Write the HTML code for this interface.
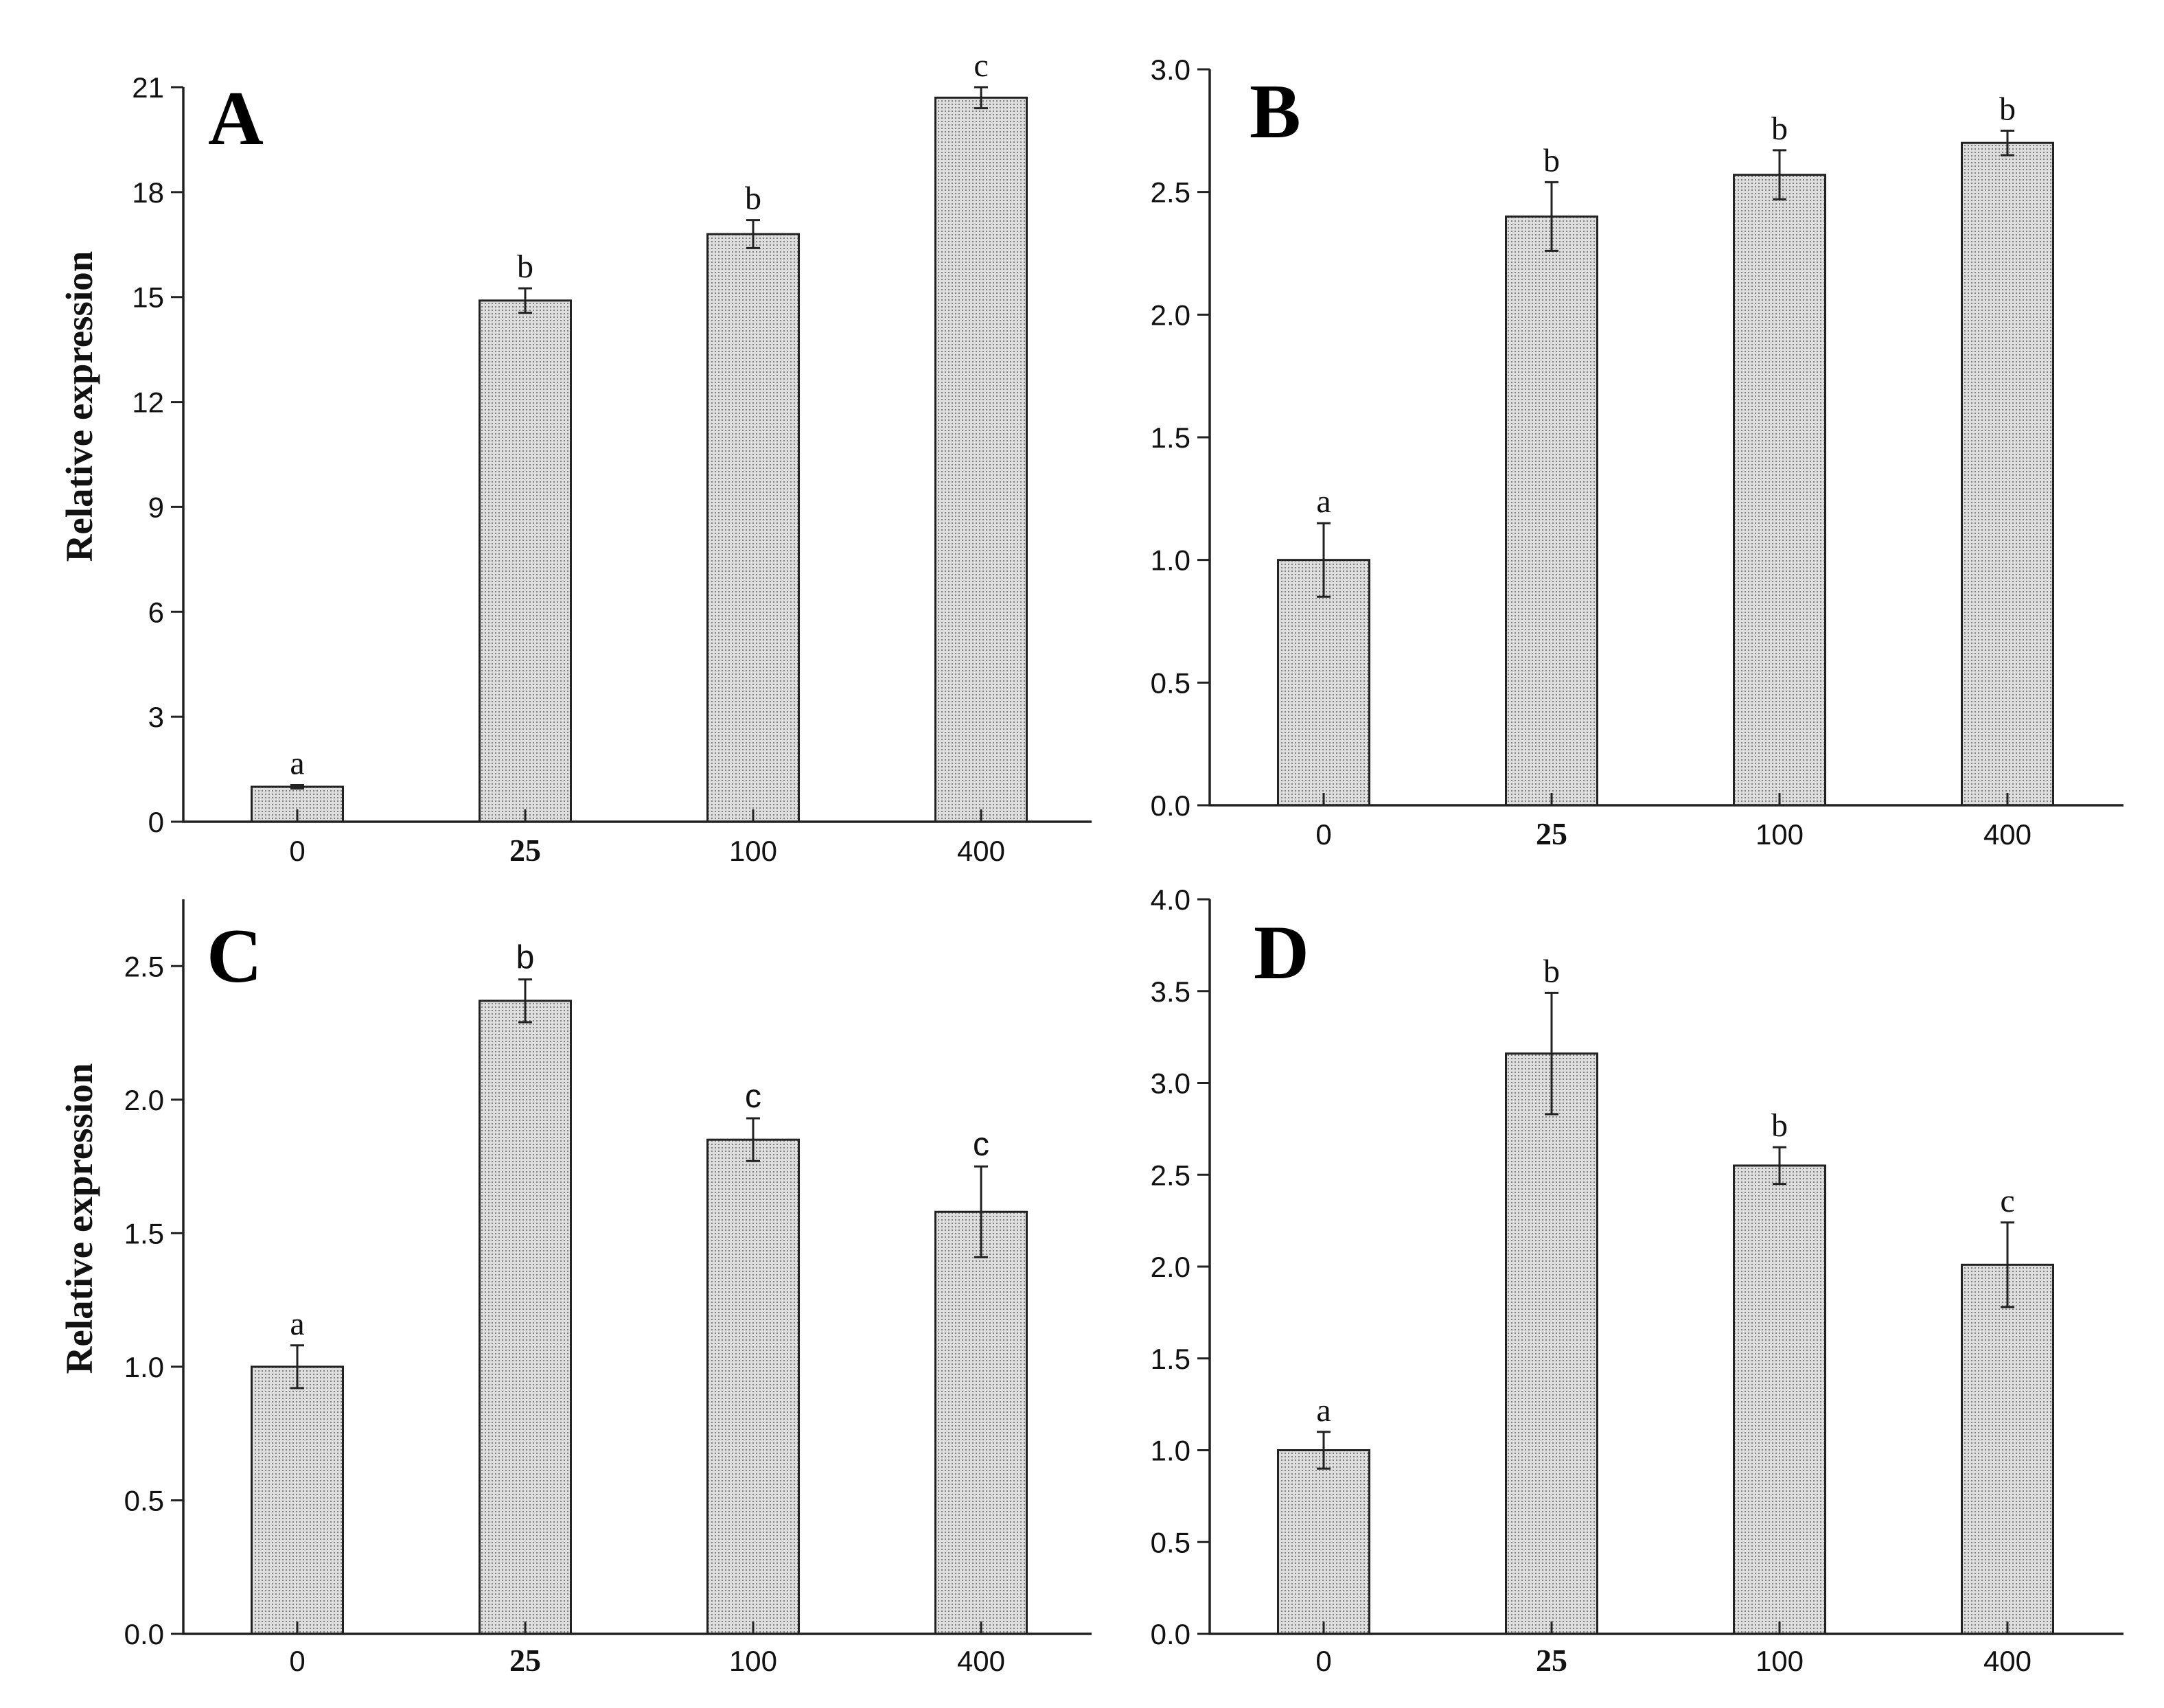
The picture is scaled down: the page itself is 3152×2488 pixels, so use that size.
<!DOCTYPE html>
<html><head><meta charset="utf-8"><style>
html,body{margin:0;padding:0;background:#fff;}
svg{display:block;}
</style></head><body>
<svg id="fig" width="3152" height="2488" viewBox="0 0 3152 2488" xmlns="http://www.w3.org/2000/svg">
<defs>
<pattern id="dots" width="5" height="5" patternUnits="userSpaceOnUse">
<rect width="5" height="5" fill="#dedede"/>
<rect x="1" y="1" width="2" height="2" fill="#808080"/>
</pattern>
</defs>
</svg>
<script>
const categories = ["0","25","100","400"];
const valuesA = [1.0, 14.9, 16.8, 20.7];
const errorsA = [0.05, 0.35, 0.4, 0.3];
const lettersA = ["a","b","b","c"];
const ticksA = [0,3,6,9,12,15,18,21];
const valuesB = [1.0, 2.4, 2.57, 2.7];
const errorsB = [0.15, 0.14, 0.1, 0.05];
const lettersB = ["a","b","b","b"];
const ticksB = [0,0.5,1.0,1.5,2.0,2.5,3.0];
const valuesC = [1.0, 2.37, 1.85, 1.58];
const errorsC = [0.08, 0.08, 0.08, 0.17];
const lettersC = ["a","b","c","c"];
const ticksC = [0,0.5,1.0,1.5,2.0,2.5];
const valuesD = [1.0, 3.16, 2.55, 2.01];
const errorsD = [0.1, 0.33, 0.1, 0.23];
const lettersD = ["a","b","b","c"];
const ticksD = [0,0.5,1.0,1.5,2.0,2.5,3.0,3.5,4.0];

const NS = "http://www.w3.org/2000/svg";
const svg = document.getElementById('fig');
function mk(tag, attrs, parent){const e=document.createElementNS(NS,tag);for(const k in attrs)e.setAttribute(k,attrs[k]);(parent||svg).appendChild(e);return e;}

const panels = [
 {id:"a", label:"A", x0:267, x1:1590, y0:1197, yTop:127, max:21, dec:0, vals:valuesA, errs:errorsA, lets:lettersA, ticks:ticksA, labelX:303, labelY:210, title:true, xlabY:1254, sansLetters:false},
 {id:"b", label:"B", x0:1762, x1:3093, y0:1173, yTop:101, max:3.0, dec:1, vals:valuesB, errs:errorsB, lets:lettersB, ticks:ticksB, labelX:1820, labelY:200, title:false, xlabY:1230, sansLetters:false},
 {id:"c", label:"C", x0:267, x1:1590, y0:2380, yTop:1310, max:2.75, dec:1, vals:valuesC, errs:errorsC, lets:lettersC, ticks:ticksC, labelX:301, labelY:1430, title:true, xlabY:2434, sansLetters:true},
 {id:"d", label:"D", x0:1762, x1:3093, y0:2380, yTop:1310, max:4.0, dec:1, vals:valuesD, errs:errorsD, lets:lettersD, ticks:ticksD, labelX:1826, labelY:1425, title:false, xlabY:2434, sansLetters:false}
];

panels.forEach(p=>{
 const g = mk('g',{});
 
 
 const yS = v => p.y0 - (v/p.max)*(p.y0-p.yTop);
 const band = 332;
 const xS = i => p.x0 + 166 + band*i;
 const bw = 133;
 p.vals.forEach((v,i)=>{
  const cx = xS(i);
  const r = mk('rect',{x:cx-bw/2, y:yS(v), width:bw, height:p.y0-yS(v), fill:'url(#dots)', stroke:'#222', 'stroke-width':3},g);
  
  
  const e = p.errs[i], yt=yS(v+e), yb=yS(v-e);
  const eb = mk('path',{d:`M${cx},${yt}V${yb}M${cx-10},${yt}H${cx+10}M${cx-10},${yb}H${cx+10}`, stroke:'#222','stroke-width':3, fill:'none'},g);
  
  
  const useSans = p.sansLetters && i>0;
  const t = mk('text',{x:cx, y:yt-16, 'text-anchor':'middle','font-family': useSans?'"Liberation Sans", sans-serif':'"Liberation Serif", serif','font-size':48, fill:'#111'},g);
  t.textContent = p.lets[i];
  
  
  mk('line',{x1:cx,x2:cx,y1:p.y0,y2:p.y0-18,stroke:'#222','stroke-width':3},g);
  const xl = mk('text',{x:cx, y:p.xlabY,'text-anchor':'middle','font-family': i===1?'"Liberation Serif", serif':'"Liberation Sans", sans-serif','font-weight': i===1?'bold':'normal','font-size':i===1?46:42, fill:'#111'},g);
  xl.textContent = categories[i];
  
  
 });
 const ax = mk('path',{d:`M${p.x0},${p.yTop}V${p.y0}H${p.x1}`, stroke:'#222','stroke-width':3.5, fill:'none'},g);
 
 
 p.ticks.forEach(t=>{
  const y=yS(t);
  mk('line',{x1:p.x0-18,x2:p.x0,y1:y,y2:y,stroke:'#222','stroke-width':3},g);
  const tl = mk('text',{x:p.x0-28,y:y+15,'text-anchor':'end','font-family':'"Liberation Sans", sans-serif','font-size':42,fill:'#111'},g);
  tl.textContent = t.toFixed(p.dec);
  
  
 });
 const pl = mk('text',{x:p.labelX,y:p.labelY,'font-family':'"Liberation Serif", serif','font-weight':'bold','font-size':112,fill:'#000'},g);
 pl.textContent = p.label;
 
 
 if(p.title){
  const cy=(p.y0+p.yTop)/2 - 70;
  const tt = mk('text',{x:0,y:0,transform:`translate(134,${cy}) rotate(-90)`,'text-anchor':'middle','font-family':'"Liberation Serif", serif','font-weight':'bold','font-size':55,fill:'#111'},g);
  tt.textContent='Relative expression';
  
  
 }
});
</script>
</body></html>
